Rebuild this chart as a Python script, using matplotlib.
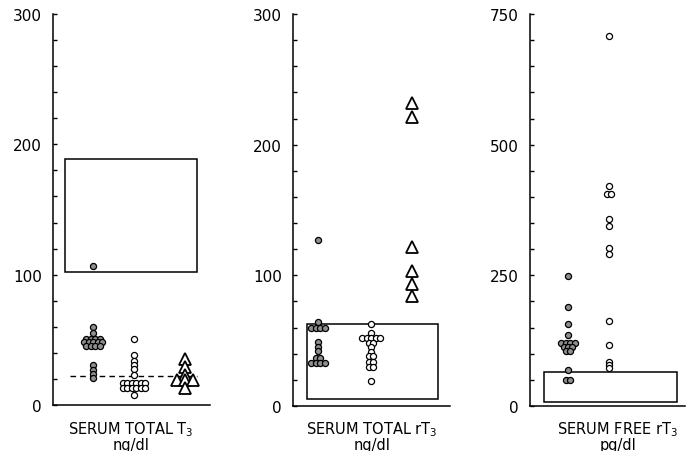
import matplotlib
matplotlib.use("Agg")
import matplotlib.pyplot as plt
import matplotlib.patches as mpatches
from matplotlib.ticker import MultipleLocator
import numpy as np

# Panel 1: serum total T3 (ng/dl)
t3_shaded = [107, 60, 55, 51, 51, 51, 51, 48, 48, 48, 48, 48, 45, 45, 45, 45, 31, 27, 24, 21]
t3_open = [51, 38, 34, 31, 28, 23, 17, 17, 17, 17, 17, 17, 13, 13, 13, 13, 13, 13, 8]
t3_tri = [35, 29, 23, 19, 19, 19, 13]
t3_normal = (102, 189)
t3_dashed = 22.5

# Panel 2: serum total rT3 (ng/dl)
rt3_shaded = [127, 64, 60, 60, 60, 60, 49, 45, 42, 37, 37, 33, 33, 33, 33]
rt3_open = [63, 56, 52, 52, 52, 52, 52, 48, 48, 45, 41, 38, 38, 34, 34, 30, 30, 19]
rt3_tri = [232, 221, 122, 103, 93, 84]
rt3_normal = (5, 63)

# Panel 3: serum free rT3 (pg/dl)
frt3_shaded = [248, 190, 157, 135, 121, 121, 121, 121, 113, 113, 113, 106, 106, 68, 50, 50]
frt3_open = [708, 420, 405, 405, 357, 344, 303, 291, 162, 117, 85, 79, 73]
frt3_normal = (8, 66)

titles = [r"SERUM TOTAL $\mathregular{T_3}$",
          r"SERUM TOTAL $\mathregular{rT_3}$",
          r"SERUM FREE $\mathregular{rT_3}$"]
units = ["ng/dl", "ng/dl", "pg/dl"]


def spread(vals, step):
    # put equal values side by side, centred on the column
    counts = {}
    for v in vals:
        counts[v] = counts.get(v, 0) + 1
    seen = {}
    xs = []
    for v in vals:
        n = counts[v]
        k = seen.get(v, 0)
        seen[v] = k + 1
        xs.append((k - (n - 1) / 2) * step)
    return np.array(xs)


W, H = 687, 452
fig = plt.figure(figsize=(W / 100, H / 100), dpi=100)

# axes boxes in pixels: left, right, y0 pixel, ytop pixel
boxes = [(53, 210, 406, 15), (293, 450, 407, 15), (530, 685, 407, 15)]
axes = []
for (x0, x1, yb, yt) in boxes:
    ax = fig.add_axes([x0 / W, (H - yb) / H, (x1 - x0) / W, (yb - yt) / H])
    ax.set_xlim(0, 4)
    for s in ["top", "right"]:
        ax.spines[s].set_visible(False)
    for s in ["left", "bottom"]:
        ax.spines[s].set_linewidth(1.1)
    ax.set_xticks([])
    ax.tick_params(axis="y", which="both", direction="in", length=3, width=1.0,
                   pad=8, labelsize=11)
    axes.append(ax)

step = 0.115
shaded = dict(marker="o", ls="none", ms=4.4, mfc="#8f8f8f", mec="black", mew=0.9)
openc = dict(marker="o", ls="none", ms=4.4, mfc="white", mec="black", mew=0.9)
tri = dict(marker="^", ls="none", ms=8.5, mfc="white", mec="black", mew=1.3)
box_kw = dict(fill=False, edgecolor="black", linewidth=1.1)

# panel 1
ax = axes[0]
ax.set_ylim(0, 300)
ax.yaxis.set_major_locator(MultipleLocator(100))
ax.yaxis.set_minor_locator(MultipleLocator(20))
ax.add_patch(mpatches.Rectangle((0.31, t3_normal[0]), 3.36, t3_normal[1] - t3_normal[0], **box_kw))
ax.plot([0.43, 3.67], [t3_dashed, t3_dashed], color="black", lw=1.0, ls=(0, (4, 3)))
ax.plot(1.02 + spread(t3_shaded, step), t3_shaded, **shaded)
ax.plot(2.06 + spread(t3_open, step), t3_open, **openc)
ax.plot(3.36 + spread(t3_tri, 0.2), t3_tri, **tri)

# panel 2
ax = axes[1]
ax.set_ylim(0, 300)
ax.yaxis.set_major_locator(MultipleLocator(100))
ax.yaxis.set_minor_locator(MultipleLocator(20))
ax.add_patch(mpatches.Rectangle((0.36, rt3_normal[0]), 3.33, rt3_normal[1] - rt3_normal[0], **box_kw))
ax.plot(0.64 + spread(rt3_shaded, step), rt3_shaded, **shaded)
ax.plot(1.99 + spread(rt3_open, step), rt3_open, **openc)
ax.plot(3.03 + spread(rt3_tri, 0.2), rt3_tri, **tri)

# panel 3
ax = axes[2]
ax.set_ylim(0, 750)
ax.yaxis.set_major_locator(MultipleLocator(250))
ax.yaxis.set_minor_locator(MultipleLocator(50))
ax.add_patch(mpatches.Rectangle((0.36, frt3_normal[0]), 3.43, frt3_normal[1] - frt3_normal[0], **box_kw))
ax.plot(0.98 + spread(frt3_shaded, step), frt3_shaded, **shaded)
ax.plot(2.04 + spread(frt3_open, step), frt3_open, **openc)

# labels under each panel
label_x = [131, 372, 618]
for x, t, u in zip(label_x, titles, units):
    fig.text(x / W, (H - 430) / H, t, ha="center", va="center", fontsize=10.5)
    fig.text(x / W, (H - 446) / H, u, ha="center", va="center", fontsize=10.5)

fig.savefig("out.png", dpi=100)
